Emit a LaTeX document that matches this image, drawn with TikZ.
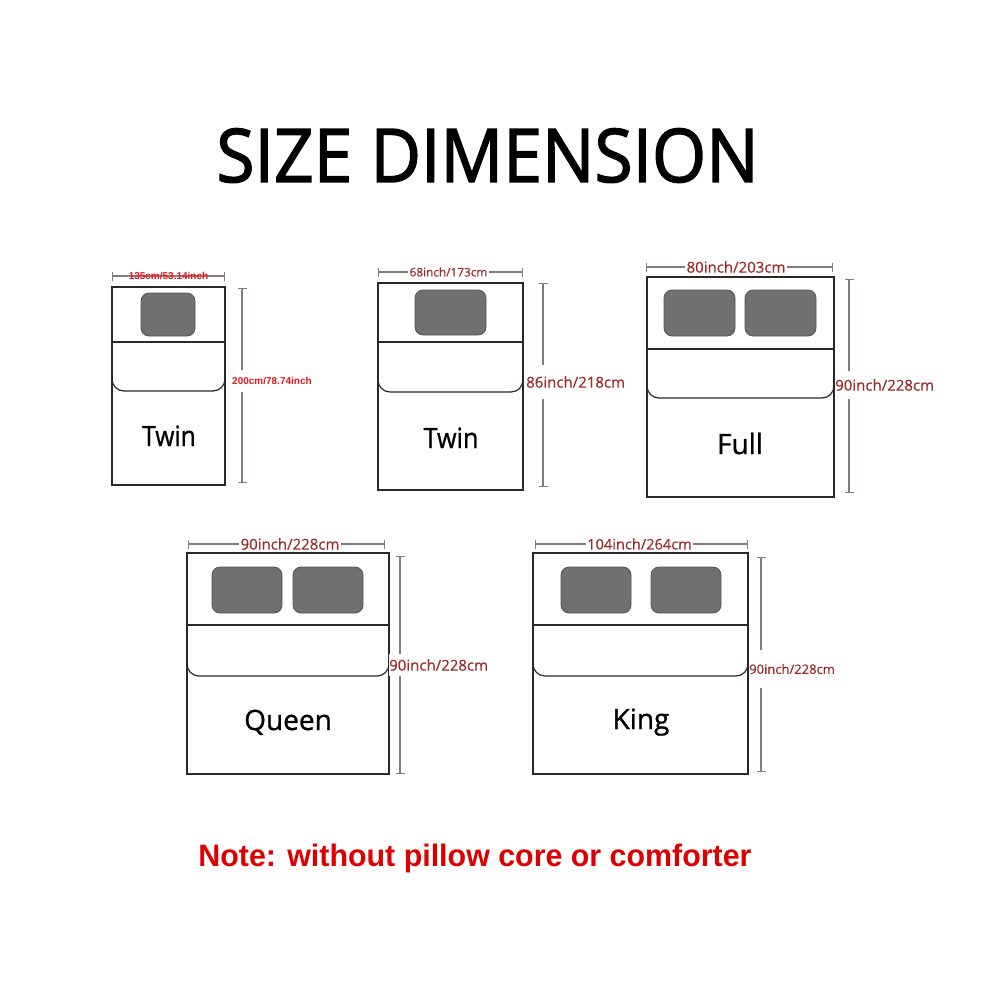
\documentclass[tikz,border=0pt]{standalone}
\usepackage{fontspec}
\usepackage{graphicx}
\usetikzlibrary{arrows.meta}
\newfontfamily\opensans[FakeBold=0.4]{Open Sans}
\newfontfamily\opensansbold[FakeBold=2]{Open Sans}
\newfontfamily\opensanslabel[FakeBold=1]{Open Sans}
\newfontfamily\libsans{Liberation Sans}
\definecolor{dimred}{RGB}{158,42,42}
\definecolor{brightred}{RGB}{232,22,28}
\definecolor{notered}{RGB}{222,0,0}
\definecolor{pillowgray}{RGB}{112,112,112}
\definecolor{pillowedge}{RGB}{85,85,85}
\definecolor{dimgray}{RGB}{132,124,124}
\definecolor{bedgray}{RGB}{40,40,40}
\begin{document}
\begin{tikzpicture}[x=1pt,y=-1pt,
  bedline/.style={draw=bedgray,line width=1.2pt},
  flapline/.style={draw=bedgray,line width=1.2pt,rounded corners=12pt},
  pillow/.style={fill=pillowgray,draw=pillowedge,line width=0.8pt,rounded corners=8pt},
  dimline/.style={draw=dimgray,line width=1.1pt,{Bar[width=9pt,line width=1.1pt]}-{Bar[width=9pt,line width=1.1pt]}},
  dimtext/.style={text=dimred,fill=white,inner xsep=1pt,inner ysep=7pt},
  wtext/.style={text=dimred,fill=white,inner xsep=1.5pt,inner ysep=0.5pt},
  smalltext/.style={font=\libsans\bfseries\fontsize{10}{10}\selectfont,text=brightred,inner sep=0pt},
  bedlabel/.style={font=\opensanslabel\fontsize{28}{28}\selectfont,text=black,inner sep=0pt,anchor=base}
]
\fill[white] (0,0) rectangle (1000,1000);
\useasboundingbox (0,0) rectangle (1000,1000);

% Title
\node[anchor=base,inner sep=0pt,font=\opensansbold\fontsize{74}{74}\selectfont] (title) at (487.5,182) {\scalebox{0.94}[1]{SIZE DIMENSION}};

% ---------- Bed 1 : Twin (small)
\draw[bedline] (112,287) rectangle (225,485);
\draw[pillow] (141,293) rectangle (195,336);
\draw[bedline] (112,342) -- (225,342);
\draw[flapline] (112,342) -- (112,391) -- (225,391) -- (225,342);
\coordinate (w1a) at (112,276); \coordinate (w1b) at (225,276);
\draw[dimline] (w1a) -- (w1b);
\node[smalltext] (w1t) at (168.5,276) {135cm/53.14inch};
\coordinate (h1a) at (242,288); \coordinate (h1b) at (242,483);
\draw[dimline] (h1a) -- (h1b);
\node[smalltext,fill=white,inner ysep=7pt,anchor=west] (h1t) at (232,381) {200cm/78.74inch};
\node[bedlabel] (l1) at (169,446) {\scalebox{0.88}[1]{Twin}};

% ---------- Bed 2 : Twin
\draw[bedline] (378,283) rectangle (523,490);
\draw[pillow] (415,290) rectangle (486,335);
\draw[bedline] (378,342) -- (523,342);
\draw[flapline] (378,342) -- (378,392) -- (523,392) -- (523,342);
\coordinate (w2a) at (378,272); \coordinate (w2b) at (523,272);
\draw[dimline] (w2a) -- (w2b);
\node[wtext,font=\opensans\fontsize{11.8}{12}\selectfont] (w2t) at (448.5,272) {68inch/173cm};
\coordinate (h2a) at (543,283); \coordinate (h2b) at (543,487);
\draw[dimline] (h2a) -- (h2b);
\node[dimtext,font=\opensans\fontsize{15}{15}\selectfont,anchor=west,inner xsep=0pt,inner ysep=11pt] (h2t) at (526,382) {86inch/218cm};
\node[bedlabel] (l2) at (451,448) {\scalebox{0.9}[1]{Twin}};

% ---------- Bed 3 : Full
\draw[bedline] (647,277) rectangle (834,497);
\draw[pillow] (664,290) rectangle (735,336);
\draw[pillow] (745,290) rectangle (816,336);
\draw[bedline] (647,349) -- (834,349);
\draw[flapline] (647,349) -- (647,398) -- (834,398) -- (834,349);
\coordinate (w3a) at (646,267); \coordinate (w3b) at (833,267);
\draw[dimline] (w3a) -- (w3b);
\node[wtext,font=\opensans\fontsize{15}{15}\selectfont] (w3t) at (736,267) {80inch/203cm};
\coordinate (h3a) at (849,279); \coordinate (h3b) at (849,493);
\draw[dimline] (h3a) -- (h3b);
\node[dimtext,font=\opensans\fontsize{15}{15}\selectfont,anchor=west,inner xsep=0pt,inner ysep=8pt] (h3t) at (835,385) {90inch/228cm};
\node[bedlabel] (l3) at (740,454) {Full};

% ---------- Bed 4 : Queen
\draw[bedline] (187,553) rectangle (389,774);
\draw[pillow] (212,567) rectangle (282,613);
\draw[pillow] (293,567) rectangle (363,613);
\draw[bedline] (187,625) -- (389,625);
\draw[flapline] (187,625) -- (187,676) -- (389,676) -- (389,625);
\coordinate (w4a) at (188,544); \coordinate (w4b) at (385,544);
\draw[dimline] (w4a) -- (w4b);
\node[wtext,font=\opensans\fontsize{15}{15}\selectfont] (w4t) at (290,544) {90inch/228cm};
\coordinate (h4a) at (400,556); \coordinate (h4b) at (400,774);
\draw[dimline] (h4a) -- (h4b);
\node[dimtext,font=\opensans\fontsize{15}{15}\selectfont,anchor=west,inner xsep=0pt,inner ysep=5pt] (h4t) at (389,665) {90inch/228cm};
\node[bedlabel] (l4) at (288,730) {Queen};

% ---------- Bed 5 : King
\draw[bedline] (533,553) rectangle (748,774);
\draw[pillow] (561,567) rectangle (631,613);
\draw[pillow] (651,567) rectangle (721,613);
\draw[bedline] (533,625) -- (748,625);
\draw[flapline] (533,625) -- (533,676) -- (748,676) -- (748,625);
\coordinate (w5a) at (535,544); \coordinate (w5b) at (748,544);
\draw[dimline] (w5a) -- (w5b);
\node[wtext,font=\opensans\fontsize{14.6}{15}\selectfont] (w5t) at (639.5,544) {104inch/264cm};
\coordinate (h5a) at (761,557); \coordinate (h5b) at (761,772);
\draw[dimline] (h5a) -- (h5b);
\node[dimtext,font=\opensans\fontsize{13}{13}\selectfont,anchor=west,inner xsep=0pt,inner ysep=14pt] (h5t) at (749,669) {90inch/228cm};
\node[bedlabel] (l5) at (641,729) {King};

% Note
\node[anchor=base,inner sep=0pt,text=notered,font=\libsans\bfseries\fontsize{31}{31}\selectfont] (note) at (475,866) {\scalebox{0.98}[1]{Note: without pillow core or comforter}};
\end{tikzpicture}
\end{document}
